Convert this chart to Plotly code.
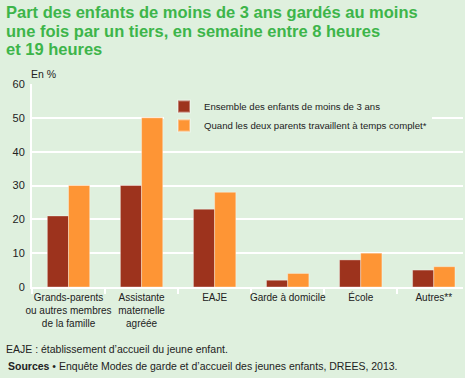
import plotly.graph_objects as go

categories = ["Grands-parents<br>ou autres membres<br>de la famille",
              "Assistante<br>maternelle<br>agréée",
              "EAJE", "Garde à domicile", "École", "Autres**"]
ensemble = [21, 30, 23, 2, 8, 5]
deux_parents = [30, 50, 28, 4, 10, 6]
series_names = ["Ensemble des enfants de moins de 3 ans",
                "Quand les deux parents travaillent à temps complet*"]
y_ticks = [0, 10, 20, 30, 40, 50, 60]

BG = "#dff0de"
FONT = "Liberation Sans"
W, H = 465, 378
L, R, T, B = 32, 2, 84, 91
PW, PH = W - L - R, H - T - B


def px(x):
    return (x - L) / PW


def py(y):
    return (H - B - y) / PH


fig = go.Figure()
fig.add_trace(go.Bar(x=categories, y=ensemble, name=series_names[0],
                     marker=dict(color="#9d331d", line=dict(color="rgba(255,255,255,0.35)", width=1))))
fig.add_trace(go.Bar(x=categories, y=deux_parents, name=series_names[1],
                     marker=dict(color="#fe9535", line=dict(color="rgba(255,255,255,0.35)", width=1))))

fig.update_layout(
    width=W, height=H,
    paper_bgcolor=BG, plot_bgcolor=BG,
    margin=dict(l=L, r=R, t=T, b=B, autoexpand=False),
    barmode="group", bargap=0.42, bargroupgap=0,
    font=dict(family=FONT, size=10, color="#222"),
    showlegend=True,
    legend=dict(x=px(164), y=py(92), xanchor="left", yanchor="top",
                bgcolor=BG, font=dict(size=9.6, color="#222"),
                itemsizing="constant", tracegroupgap=0),
    xaxis=dict(range=[-0.5, 5.4], showgrid=False, showline=True, linecolor="white", linewidth=2,
               ticks="outside", tickson="boundaries", tickcolor="white", ticklen=5, tickwidth=2,
               tickfont=dict(size=10, color="#222"), fixedrange=True, tickangle=0),
    yaxis=dict(range=[0, 60], tickvals=y_ticks, showgrid=True, gridcolor="white", gridwidth=2,
               showline=True, linecolor="white", linewidth=2, zeroline=False,
               ticks="", tickfont=dict(size=11, color="#222"), ticklabelstandoff=3),
)

title_lines = ["Part des enfants de moins de 3 ans gardés au moins",
               "une fois par un tiers, en semaine entre 8 heures",
               "et 19 heures"]
for i, line in enumerate(title_lines):
    fig.add_annotation(text="<b>" + line + "</b>", x=px(4), y=py(1 + i * 18.7), xref="paper", yref="paper",
                       showarrow=False, xanchor="left", yanchor="top",
                       font=dict(family=FONT, size=16.5, color="#3db54a"))

fig.add_annotation(text="En %", x=px(29), y=py(66), xref="paper", yref="paper",
                   showarrow=False, xanchor="left", yanchor="top", font=dict(size=10.5, color="#222"))
fig.add_annotation(text="EAJE : établissement d’accueil du jeune enfant.", x=px(4), y=py(341),
                   xref="paper", yref="paper", showarrow=False, xanchor="left", yanchor="top",
                   font=dict(size=10.5, color="#222"))
fig.add_annotation(text="<b>Sources</b> • Enquête Modes de garde et d’accueil des jeunes enfants, DREES, 2013.",
                   x=px(6), y=py(358), xref="paper", yref="paper", showarrow=False,
                   xanchor="left", yanchor="top", font=dict(size=10.5, color="#222"))

fig.write_html("out.html", config={"displayModeBar": False},
               post_script="document.body.style.margin='0';")
